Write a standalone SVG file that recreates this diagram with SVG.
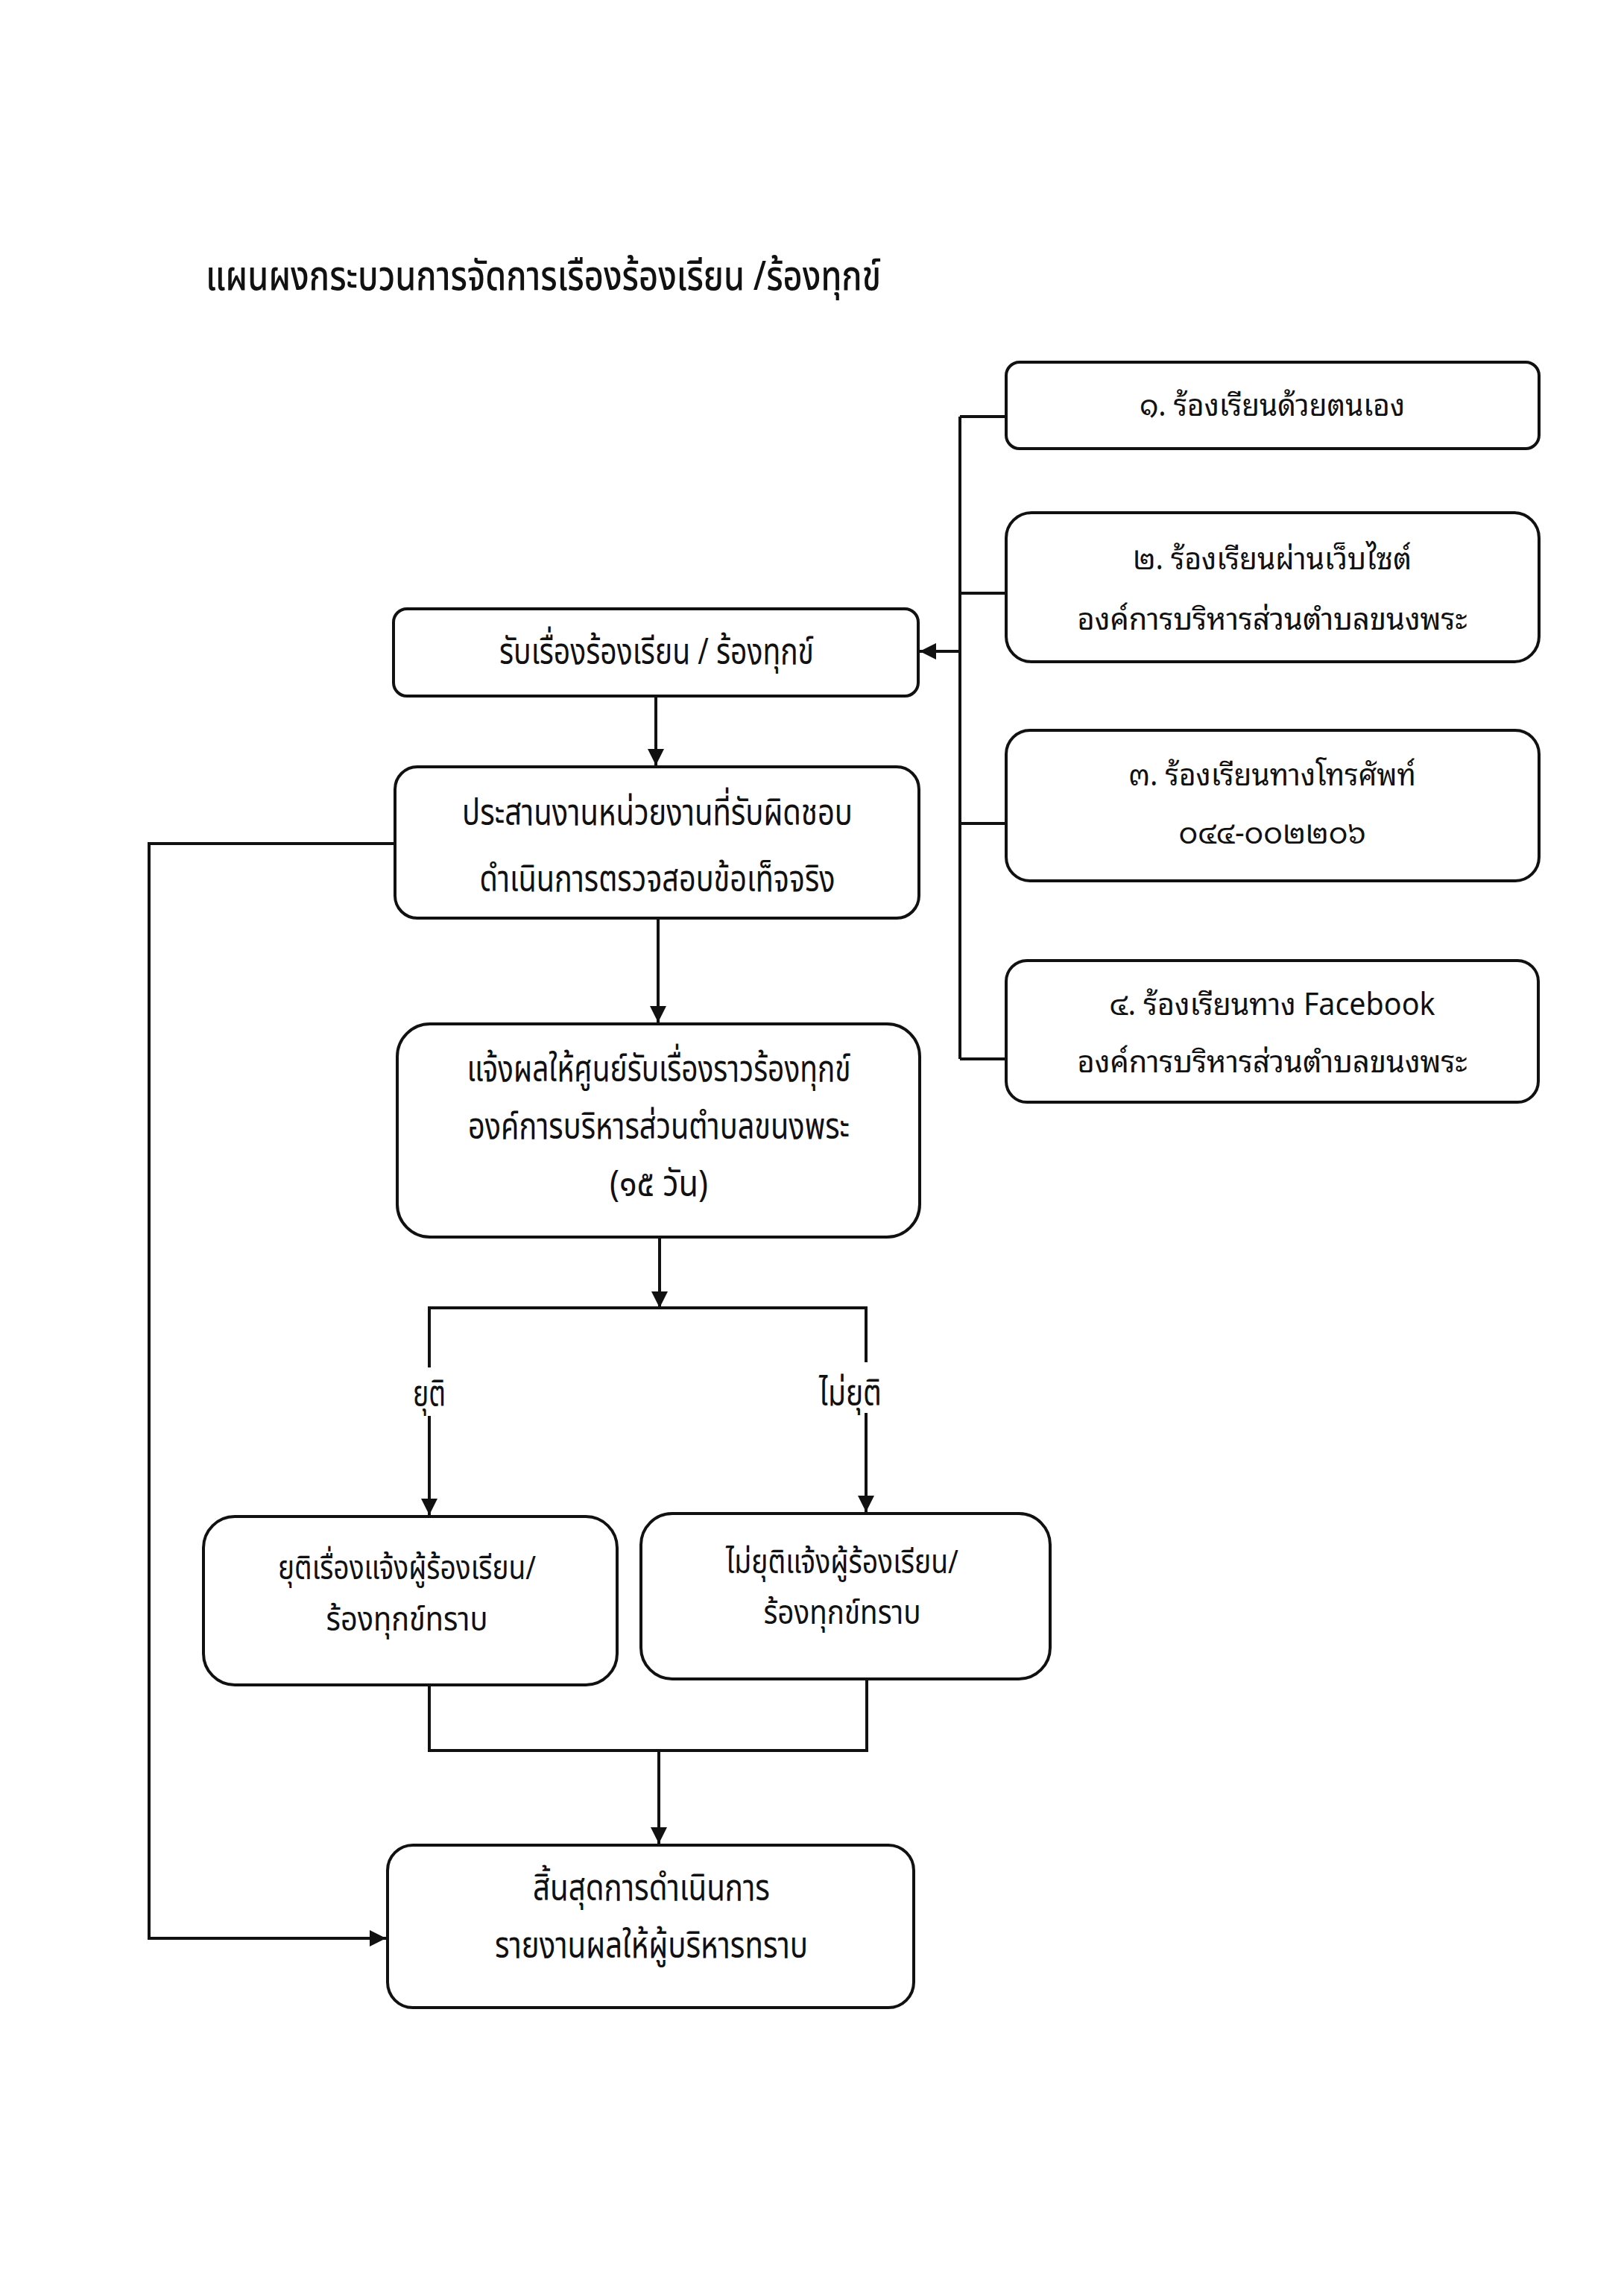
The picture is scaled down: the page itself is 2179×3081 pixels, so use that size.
<svg xmlns="http://www.w3.org/2000/svg" width="2179" height="3081" viewBox="0 0 2179 3081">
<defs>
<marker id="arr" markerUnits="userSpaceOnUse" markerWidth="24" markerHeight="22" refX="22" refY="11" orient="auto">
<path d="M0,0 L22,11 L0,22 Z" fill="#111"/>
</marker>
<style>
rect.box{fill:#fff;stroke:#111;stroke-width:4}
.c{fill:none;stroke:#111;stroke-width:4}
text{fill:#111;font-family:"Noto Sans Thai","Noto Sans Thai UI","Noto Sans","DejaVu Sans",sans-serif;text-anchor:middle}
.t{font-size:50px}
.s{font-size:44px}
.r{font-size:41px;font-family:"Noto Sans Thai Looped","Noto Sans Thai","Noto Sans","DejaVu Sans",sans-serif}
.title{font-size:55px;text-anchor:start;font-weight:500}
</style>
</defs>
<rect width="2179" height="3081" fill="#fff"/>
<text class="title" x="276" y="389" textLength="906" lengthAdjust="spacingAndGlyphs">แผนผงกระบวนการจัดการเรืองร้องเรียน /ร้องทุกข์</text>

<g id="connectors">
<path class="c" d="M1288,559 V1421"/>
<path class="c" d="M1288,559 H1350 M1288,796 H1350 M1288,1105 H1350 M1288,1421 H1350"/>
<path class="c" d="M1288,874 H1234" marker-end="url(#arr)"/>
<path class="c" d="M880,934 V1027" marker-end="url(#arr)"/>
<path class="c" d="M883,1232 V1372" marker-end="url(#arr)"/>
<path class="c" d="M885,1660 V1755" marker-end="url(#arr)"/>
<path class="c" d="M576,1835 V1755 H1162 V1828"/>
<path class="c" d="M576,1900 V2033" marker-end="url(#arr)"/>
<path class="c" d="M1162,1896 V2029" marker-end="url(#arr)"/>
<path class="c" d="M576,2261 V2349 H1163 V2252"/>
<path class="c" d="M884,2349 V2474" marker-end="url(#arr)"/>
<path class="c" d="M530,1132 H200 V2601 H518" marker-end="url(#arr)"/>
<text class="t" x="576" y="1887" textLength="44" lengthAdjust="spacingAndGlyphs">ยุติ</text>
<text class="t" x="1141" y="1886" textLength="84" lengthAdjust="spacingAndGlyphs">ไม่ยุติ</text>
</g>

<g id="n-ch1">
<rect class="box" x="1350" y="486" width="715" height="116" rx="18"/>
<text class="r" x="1707" y="558" textLength="356" lengthAdjust="spacingAndGlyphs">๑. ร้องเรียนด้วยตนเอง</text>
</g>
<g id="n-ch2">
<rect class="box" x="1350" y="688" width="715" height="200" rx="34"/>
<text class="r" x="1707" y="764" textLength="374" lengthAdjust="spacingAndGlyphs">๒. ร้องเรียนผ่านเว็บไซต์</text>
<text class="r" x="1707" y="845" textLength="523" lengthAdjust="spacingAndGlyphs">องค์การบริหารส่วนตำบลขนงพระ</text>
</g>
<g id="n-ch3">
<rect class="box" x="1350" y="980" width="715" height="202" rx="32"/>
<text class="r" x="1707" y="1054" textLength="386" lengthAdjust="spacingAndGlyphs">๓. ร้องเรียนทางโทรศัพท์</text>
<text class="r" x="1707" y="1132" textLength="251" lengthAdjust="spacingAndGlyphs">๐๔๔-๐๐๒๒๐๖</text>
</g>
<g id="n-ch4">
<rect class="box" x="1350" y="1289" width="714" height="190" rx="28"/>
<text class="r" x="1707" y="1362" textLength="437" lengthAdjust="spacingAndGlyphs">๔. ร้องเรียนทาง Facebook</text>
<text class="r" x="1707" y="1439" textLength="523" lengthAdjust="spacingAndGlyphs">องค์การบริหารส่วนตำบลขนงพระ</text>
</g>

<g id="n-receive">
<rect class="box" x="528" y="817" width="704" height="117" rx="18"/>
<text class="t" x="881" y="891" textLength="422" lengthAdjust="spacingAndGlyphs">รับเรื่องร้องเรียน / ร้องทุกข์</text>
</g>
<g id="n-coord">
<rect class="box" x="530" y="1029" width="703" height="203" rx="30"/>
<text class="t" x="882" y="1107" textLength="524" lengthAdjust="spacingAndGlyphs">ประสานงานหน่วยงานที่รับผิดชอบ</text>
<text class="t" x="882" y="1196" textLength="477" lengthAdjust="spacingAndGlyphs">ดำเนินการตรวจสอบข้อเท็จจริง</text>
</g>
<g id="n-notify">
<rect class="box" x="533" y="1374" width="701" height="286" rx="44"/>
<text class="t" x="884" y="1451" textLength="515" lengthAdjust="spacingAndGlyphs">แจ้งผลให้ศูนย์รับเรื่องราวร้องทุกข์</text>
<text class="t" x="884" y="1528" textLength="512" lengthAdjust="spacingAndGlyphs">องค์การบริหารส่วนตำบลขนงพระ</text>
<text class="t" x="884" y="1605" textLength="132" lengthAdjust="spacingAndGlyphs">(๑๕ วัน)</text>
</g>
<g id="n-end-case">
<rect class="box" x="273" y="2035" width="555" height="226" rx="42"/>
<text class="s" x="546" y="2119" textLength="346" lengthAdjust="spacingAndGlyphs">ยุติเรื่องแจ้งผู้ร้องเรียน/</text>
<text class="s" x="546" y="2188" textLength="217" lengthAdjust="spacingAndGlyphs">ร้องทุกข์ทราบ</text>
</g>
<g id="n-not-end">
<rect class="box" x="860" y="2031" width="549" height="222" rx="42"/>
<text class="s" x="1130" y="2111" textLength="312" lengthAdjust="spacingAndGlyphs">ไม่ยุติแจ้งผู้ร้องเรียน/</text>
<text class="s" x="1130" y="2179" textLength="211" lengthAdjust="spacingAndGlyphs">ร้องทุกข์ทราบ</text>
</g>
<g id="n-finish">
<rect class="box" x="520" y="2476" width="706" height="218" rx="34"/>
<text class="t" x="874" y="2550" textLength="318" lengthAdjust="spacingAndGlyphs">สิ้นสุดการดำเนินการ</text>
<text class="t" x="874" y="2627" textLength="420" lengthAdjust="spacingAndGlyphs">รายงานผลให้ผู้บริหารทราบ</text>
</g>
</svg>
